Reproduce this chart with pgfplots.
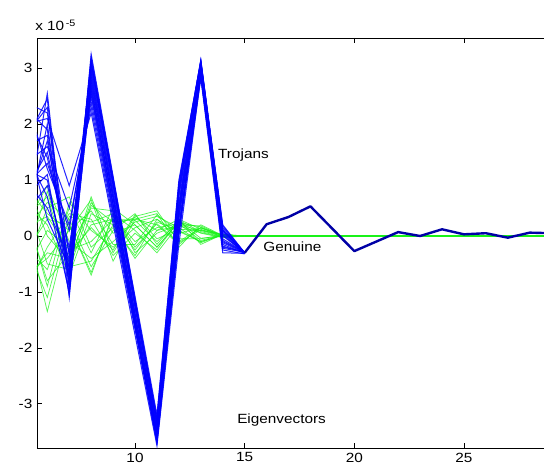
\documentclass[border=0pt]{standalone}
\usepackage{pgfplots}
\usepackage{pgfplotstable}
\pgfplotsset{compat=1.18}
\usepackage{fontspec}
\setmainfont[FakeStretch=1.15]{Liberation Sans}

% Eigenvector components (units of 1e-5), indices 5..15, one column per curve
\pgfplotstableread{
x  b1 b2 b3 b4 b5 b6 b7 b8 b9 b10 b11 b12 b13 b14 b15 b16 b17 b18 b19 b20
5  0.2 1.8 2.3 0.8 1.2 2.0 0.5 1.5 2.5 0.1 1.0 2.2 1.7 0.4 1.3 2.4 0.7 1.9 0.9 1.6
6  2.55 2.3 1.9 1.5 1.0 2.1 1.7 0.7 1.2 2.0 0.5 1.4 2.45 0.9 1.6 2.2 1.1 0.3 1.3 1.8
7  -0.9 -1.1 -0.6 -0.3 -0.8 0.9 -0.5 -1.0 0.2 -0.7 -0.4 -0.2 -0.95 -0.65 0.5 -0.35 -1.05 -0.55 0.1 -0.75
8  3.25 3.1 2.95 2.8 2.6 2.2 3.0 2.7 2.4 3.15 2.9 2.5 3.2 2.75 2.3 3.05 2.85 2.65 2.55 3.1
9  1.07 0.92 0.83 0.67 0.55 0.22 0.92 0.57 0.39 1.03 0.77 0.43 1.02 0.67 0.31 0.91 0.73 0.57 0.48 0.97
10 -1.12 -1.27 -1.28 -1.47 -1.5 -1.77 -1.17 -1.55 -1.61 -1.08 -1.37 -1.63 -1.17 -1.4 -1.67 -1.24 -1.4 -1.5 -1.58 -1.17
11 -3.3 -3.45 -3.4 -3.6 -3.55 -3.75 -3.25 -3.68 -3.62 -3.2 -3.5 -3.7 -3.35 -3.48 -3.66 -3.38 -3.52 -3.58 -3.65 -3.3
12 0.9 0.6 0.75 0.3 0.45 -0.15 1.0 0.1 0.2 0.95 0.5 0.0 0.85 0.55 0.05 0.7 0.4 0.35 0.15 0.8
13 3.15 3.1 3.05 2.95 3.0 2.85 3.12 2.98 2.9 3.14 3.06 2.92 3.13 3.02 2.82 3.08 2.96 2.88 2.86 3.11
14 0.15 0.05 -0.2 0.1 -0.1 -0.25 0.2 -0.05 -0.15 0.12 0.0 -0.18 0.08 -0.08 -0.3 0.18 -0.12 -0.22 0.02 0.1
15 -0.3 -0.31 -0.28 -0.3 -0.29 -0.32 -0.3 -0.29 -0.31 -0.3 -0.29 -0.3 -0.31 -0.29 -0.31 -0.3 -0.3 -0.29 -0.3 -0.3
}\trojans

\pgfplotstableread{
x  g1 g2 g3 g4 g5 g6 g7 g8 g9 g10 g11 g12 g13 g14 g15 g16 g17 g18 g19 g20
5  0.3 -0.4 0.6 -0.2 0.9 -0.8 0.1 0.5 -0.6 0.2 -1.0 0.7 -0.3 0.4 -0.5 1.0 -0.1 0.35 -0.7 0.15
6  -1.35 0.8 0.2 -0.6 0.4 -0.3 0.6 -0.9 0.1 0.9 -0.2 -0.5 0.3 -0.8 0.5 0.0 -1.1 0.7 -0.4 0.35
7  0.2 -0.5 -0.7 0.5 0.1 -0.4 0.3 0.6 -0.2 -0.1 0.4 -0.6 0.2 -0.3 0.7 -0.45 0.35 -0.55 0.1 -0.25
8  -0.7 0.7 0.4 -0.3 0.65 0.2 -0.55 0.1 0.5 -0.4 0.3 0.55 -0.65 0.15 -0.2 0.6 0.25 -0.45 0.45 -0.1
9  0.4 -0.3 0.2 0.5 -0.45 0.3 0.1 -0.2 0.45 -0.1 -0.35 0.25 0.35 -0.25 0.15 0.05 0.4 0.2 -0.15 0.3
10 0.1 0.35 -0.4 0.2 0.3 -0.25 0.4 0.15 -0.3 0.25 0.05 0.3 -0.1 0.38 -0.35 0.2 -0.2 0.33 -0.15 0.28
11 -0.3 0.45 0.1 -0.2 0.4 0.25 -0.15 0.3 0.05 0.35 -0.25 0.2 0.15 -0.05 0.3 -0.2 0.22 0.1 0.38 -0.1
12 0.2 -0.1 0.3 0.25 -0.2 0.1 0.3 -0.05 0.2 0.15 0.28 -0.15 0.22 0.12 0.05 0.26 -0.12 0.18 0.08 0.24
13 0.1 0.15 -0.15 0.05 0.2 -0.1 0.12 -0.05 0.18 -0.12 0.08 0.15 -0.08 0.1 0.14 -0.04 0.11 0.06 -0.1 0.16
14 0.02 -0.02 0.03 -0.03 0.01 0.02 -0.01 0.02 0.0 0.03 -0.02 0.01 0.02 -0.01 0.02 0.0 0.02 -0.02 0.01 0.0
15 0 0 0 0 0 0 0 0 0 0 0 0 0 0 0 0 0 0 0 0
}\genuine

% Shared tails, where all curves of a class coincide
\pgfplotstableread{
x   y
15 -0.30
16  0.21
17  0.34
18  0.53
19  0.13
20 -0.27
21 -0.10
22  0.07
23  0.00
24  0.12
25  0.03
26  0.05
27 -0.03
28  0.06
29  0.05
}\trojantail

\pgfplotstableread{
x   y
15  0
29  0
}\genuinetail

\definecolor{mblue}{rgb}{0,0,1}
\definecolor{mgreen}{rgb}{0.1,0.95,0.1}

\begin{document}
\fontsize{10}{12}\selectfont
\begin{tikzpicture}
\begin{axis}[
  name=ax,
  at={(0,0)}, anchor=south west,
  scale only axis,
  width=380.25pt, height=307.5pt,
  xmin=5.53, xmax=28.65,
  ymin=-3.79, ymax=3.54,
  axis x line*=box,
  axis y line*=left,
  axis line style={black, line width=0.6pt},
  tick align=inside,
  major tick length=4pt,
  tick style={black, line width=0.5pt},
  xtick={10,15,20,25},
  ytick={-3,-2,-1,0,1,2,3},
  /pgf/number format/assume math mode=true,
  ticklabel style={font=\fontsize{10}{12}\selectfont},
  clip=true,
]
  % Genuine signatures
  \pgfplotsinvokeforeach{1,...,20}{
    \addplot[mgreen, line width=0.55pt, opacity=0.75] table[x=x, y=g#1] {\genuine};
  }
  \addplot[mgreen, line width=1.5pt] table[x=x, y=y] {\genuinetail};

  % Trojan signatures
  \pgfplotsinvokeforeach{1,...,20}{
    \addplot[mblue, line width=0.75pt, opacity=0.85] table[x=x, y=b#1] {\trojans};
  }
  \addplot[blue!65!black, line width=1.8pt, line join=round] table[x=x, y=y] {\trojantail};

  \node[anchor=west, inner sep=0pt] at (axis cs:13.78,1.45) {Trojans};
  \node[anchor=west, inner sep=0pt] at (axis cs:15.84,-0.2) {Genuine};
  \node[anchor=west, inner sep=0pt] at (axis cs:14.65,-3.29) {Eigenvectors};
\end{axis}
\node[anchor=base west, inner sep=0pt] at ([xshift=-1.5pt, yshift=5.3pt]ax.north west)
  {x 10\textsuperscript{\,-5}};
\pgfresetboundingbox
\path (-27.75pt,-15.75pt) rectangle (380.25pt,336pt);
\end{tikzpicture}
\end{document}
